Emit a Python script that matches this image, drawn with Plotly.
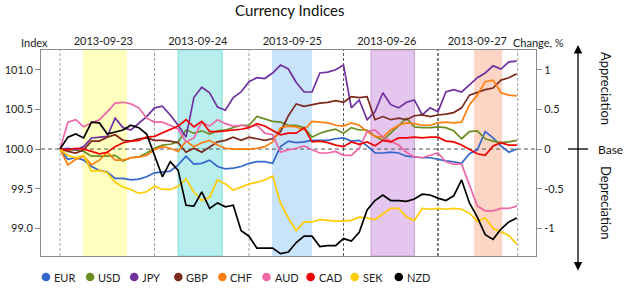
import plotly.graph_objects as go
import pandas as pd

# ---------------- data ----------------
times = pd.date_range("2013-09-23 00:00", "2013-09-27 20:00", freq="2h")

currencies = ["EUR", "USD", "JPY", "GBP", "CHF", "AUD", "CAD", "SEK", "NZD"]

eur = [100.00, 99.87, 99.89, 99.86, 99.78, 99.73, 99.71, 99.63, 99.63, 99.61, 99.62, 99.65, 99.70, 99.71, 99.72,
       99.80, 99.91, 99.81, 99.82, 99.86, 99.78, 99.75, 99.76, 99.78, 99.82, 99.84, 99.84, 99.82, 100.03, 100.10,
       100.08, 100.09, 100.11, 100.11, 100.11, 100.13, 100.14, 100.10, 100.11, 100.04, 99.95, 99.95, 99.96, 99.95,
       99.91, 99.90, 99.89, 99.89, 99.87, 99.85, 99.84, 99.82, 99.94, 99.99, 100.22, 100.14, 100.04, 99.96, 100.00]
usd = [100.00, 99.99, 99.99, 99.97, 99.91, 99.91, 99.91, 99.92, 99.85, 99.89, 99.90, 99.95, 100.01, 100.05, 100.06,
       100.09, 100.24, 100.20, 100.23, 100.19, 100.23, 100.24, 100.27, 100.30, 100.30, 100.41, 100.38, 100.35, 100.34,
       100.30, 100.30, 100.27, 100.15, 100.20, 100.23, 100.25, 100.20, 100.27, 100.24, 100.24, 100.16, 100.11, 100.20,
       100.30, 100.39, 100.28, 100.27, 100.27, 100.28, 100.27, 100.23, 100.13, 100.22, 100.23, 100.13, 100.10, 100.08,
       100.09, 100.11]
jpy = [100.00, 100.01, 99.99, 100.03, 100.14, 100.15, 100.16, 100.39, 100.27, 100.24, 100.32, 100.41, 100.52, 100.54,
       100.43, 100.30, 100.15, 100.65, 100.78, 100.71, 100.53, 100.49, 100.65, 100.72, 100.85, 100.90, 100.89, 100.96,
       101.06, 101.01, 100.84, 100.72, 100.72, 100.96, 100.97, 101.00, 101.06, 100.52, 100.62, 100.37, 100.47, 100.71,
       100.56, 100.52, 100.59, 100.62, 100.43, 100.52, 100.47, 100.72, 100.75, 100.72, 100.81, 100.90, 100.96, 101.05,
       101.01, 101.10, 101.11]
gbp = [100.00, 99.97, 99.95, 99.99, 100.10, 100.10, 100.15, 100.18, 100.11, 100.10, 100.13, 100.14, 100.11, 100.11,
       100.10, 100.08, 99.96, 100.01, 99.96, 100.03, 100.09, 100.11, 100.15, 100.11, 100.15, 100.13, 100.11, 100.13,
       100.22, 100.42, 100.57, 100.54, 100.56, 100.58, 100.59, 100.61, 100.59, 100.66, 100.65, 100.66, 100.37, 100.41,
       100.37, 100.39, 100.37, 100.42, 100.43, 100.41, 100.43, 100.44, 100.46, 100.52, 100.68, 100.72, 100.75, 100.77,
       100.87, 100.90, 100.95]
chf = [100.00, 99.80, 99.87, 99.91, 99.80, 99.86, 99.96, 99.86, 99.86, 99.89, 99.90, 99.92, 99.99, 100.03, 100.01,
       99.97, 100.10, 100.03, 100.08, 100.11, 100.05, 100.01, 100.00, 100.00, 100.00, 100.01, 100.03, 100.09, 100.27,
       100.29, 100.28, 100.24, 100.35, 100.34, 100.33, 100.30, 100.29, 100.33, 100.30, 100.22, 100.16, 100.15, 100.24,
       100.30, 100.33, 100.32, 100.30, 100.30, 100.33, 100.34, 100.33, 100.34, 100.56, 100.68, 100.85, 100.87, 100.71,
       100.68, 100.67]
aud = [100.00, 100.34, 100.37, 100.28, 100.33, 100.37, 100.47, 100.58, 100.59, 100.57, 100.52, 100.39, 100.34, 100.34,
       100.30, 100.25, 100.09, 100.14, 100.34, 100.29, 100.37, 100.32, 100.29, 100.30, 100.28, 100.30, 100.20, 100.18,
       99.96, 99.99, 100.01, 100.04, 99.99, 99.95, 99.95, 99.97, 99.92, 99.92, 100.01, 100.22, 100.24, 100.15, 100.10,
       100.05, 99.96, 99.90, 99.89, 99.92, 99.95, 99.84, 99.81, 99.81, 99.54, 99.28, 99.22, 99.22, 99.25, 99.25, 99.28]
cad = [100.00, 99.99, 100.01, 100.00, 99.97, 99.94, 99.96, 100.03, 100.08, 100.10, 100.11, 100.15, 100.16, 100.20,
       100.24, 100.29, 100.37, 100.28, 100.35, 100.22, 100.22, 100.23, 100.24, 100.25, 100.27, 100.32, 100.29, 100.23,
       100.18, 100.20, 100.20, 100.27, 100.09, 100.10, 100.08, 100.05, 100.03, 100.09, 100.06, 100.09, 100.04, 100.11,
       100.09, 100.14, 100.14, 100.15, 100.14, 100.15, 100.15, 100.10, 100.09, 100.05, 100.00, 99.94, 99.92, 100.04,
       100.08, 100.05, 100.05]
sek = [100.00, 99.92, 99.89, 99.92, 99.72, 99.73, 99.70, 99.58, 99.52, 99.49, 99.44, 99.46, 99.53, 99.49, 99.49,
       99.53, 99.62, 99.46, 99.35, 99.39, 99.61, 99.56, 99.48, 99.52, 99.56, 99.58, 99.61, 99.66, 99.32, 99.13, 98.97,
       99.08, 99.08, 99.11, 99.10, 99.09, 99.09, 99.10, 99.14, 99.13, 99.11, 99.18, 99.25, 99.25, 99.14, 99.10, 99.25,
       99.24, 99.25, 99.24, 99.25, 99.24, 99.19, 99.09, 99.13, 99.00, 98.96, 98.91, 98.80]
nzd = [100.00, 100.15, 100.19, 100.14, 100.34, 100.33, 100.19, 100.22, 100.24, 100.30, 100.27, 100.19, 99.92, 99.65,
       99.84, 99.73, 99.29, 99.28, 99.46, 99.25, 99.32, 99.27, 99.29, 98.97, 98.90, 98.75, 98.75, 98.75, 98.68, 98.70,
       98.82, 98.90, 98.90, 98.77, 98.78, 98.78, 98.87, 98.84, 98.95, 99.23, 99.35, 99.42, 99.35, 99.35, 99.34, 99.37,
       99.43, 99.42, 99.38, 99.35, 99.41, 99.61, 99.32, 99.14, 98.92, 98.86, 98.99, 99.08, 99.13]

series = [eur, usd, jpy, gbp, chf, aud, cad, sek, nzd]

day_labels = ["2013-09-23", "2013-09-24", "2013-09-25", "2013-09-26", "2013-09-27"]
day_label_times = ["2013-09-23 11:00", "2013-09-24 11:00", "2013-09-25 11:00", "2013-09-26 11:00", "2013-09-27 10:00"]
separators = ["2013-09-23 00:00", "2013-09-24 00:00", "2013-09-25 00:00", "2013-09-26 00:00",
              "2013-09-27 00:00", "2013-09-27 20:15"]
session_start = ["2013-09-23 05:50", "2013-09-24 06:00", "2013-09-25 05:50", "2013-09-26 07:00", "2013-09-27 09:10"]
session_end = ["2013-09-23 17:00", "2013-09-24 17:10", "2013-09-25 16:00", "2013-09-26 18:00", "2013-09-27 16:20"]

left_ticks = [99.0, 99.5, 100.0, 100.5, 101.0]
right_ticks = [-1, -0.5, 0, 0.5, 1]
right_tick_text = ["-1", "-0.5", "0", "0.5", "1"]

# ---------------- styles ----------------
colors = ["#3466CC", "#6B8E23", "#7030A0", "#7B2A1C", "#FF7F0E", "#EE66A6", "#F00000", "#FFCC00", "#000000"]
sep_colors = ["#a0a0a0", "#a0a0a0", "#a0a0a0", "#555555", "#000000", "#a0a0a0"]
band_fill = ["#FFFFC0", "#B9EEEE", "#C8E3FA", "#E4C6EE", "#FDD5C4"]
band_line = ["rgba(0,0,0,0)", "#7ADADA", "rgba(0,0,0,0)", "#C99AD9", "rgba(0,0,0,0)"]

FONT = "Lato, 'Open Sans', sans-serif"
W, H = 625, 288
L, R, T, B = 41, 536, 50, 256
AXC = "#8a8a8a"


def px_x(p):
    return (p - L) / (R - L)


def px_y(p):
    return (B - p) / (B - T)


def label(text, x, y, size=11, xanchor="center", angle=0, color="#222"):
    return dict(text=text, xref="paper", yref="paper", x=px_x(x), y=px_y(y), xanchor=xanchor,
                yanchor="middle", textangle=angle, showarrow=False, font=dict(size=size, color=color))


fig = go.Figure()

for name, vals, col in zip(currencies, series, colors):
    fig.add_trace(go.Scatter(x=times, y=vals, mode="lines", name=name,
                             line=dict(color=col, width=1.7), showlegend=False))

# right axis carrier (invisible)
fig.add_trace(go.Scatter(x=[times[0]], y=[0], yaxis="y2", mode="markers",
                         marker=dict(opacity=0), showlegend=False, hoverinfo="skip"))

shapes = []
for s0, s1, fc, lc in zip(session_start, session_end, band_fill, band_line):
    shapes.append(dict(type="rect", xref="x", yref="paper", x0=s0, x1=s1, y0=0, y1=1,
                       fillcolor=fc, line=dict(color=lc, width=1), layer="below"))
for sx, sc in zip(separators, sep_colors):
    shapes.append(dict(type="line", xref="x", yref="paper", x0=sx, x1=sx, y0=0, y1=1,
                       line=dict(color=sc, width=1, dash="3px,2px"), layer="below"))
shapes.append(dict(type="line", xref="paper", yref="y", x0=0, x1=1, y0=100, y1=100,
                   line=dict(color="#555555", width=1, dash="4px,3px"), layer="below"))
# Base cross tick
shapes.append(dict(type="line", xref="paper", yref="paper", x0=px_x(568), x1=px_x(588),
                   y0=px_y(149), y1=px_y(149), line=dict(color="black", width=1.3)))

annotations = []
annotations.append(label("Currency Indices", 289, 10, size=15, color="#111"))
annotations.append(label("Index", 34, 42))
annotations.append(label("Change, %", 538, 42))
# Double arrow
annotations.append(dict(text="", xref="paper", yref="paper", x=px_x(578), y=px_y(45),
                        ax=0, ay=227, axref="pixel", ayref="pixel", showarrow=True,
                        arrowside="end+start", arrowhead=2, startarrowhead=2,
                        arrowsize=1.3, startarrowsize=1.3, arrowwidth=1.3, arrowcolor="black",
                        standoff=0, startstandoff=0))
annotations.append(label("Appreciation", 606, 88, size=13, angle=90, color="#111"))
annotations.append(label("Depreciation", 606, 203, size=13, angle=90, color="#111"))
annotations.append(label("Base", 596, 149, size=12, xanchor="left", color="#111"))

# legend (dots + labels)
for i, (name, col) in enumerate(zip(currencies, colors)):
    cx = 46 + 44.1 * i
    shapes.append(dict(type="circle", xref="paper", yref="paper", xsizemode="pixel", ysizemode="pixel",
                       xanchor=px_x(cx), yanchor=px_y(277), x0=-4.3, x1=4.3, y0=-4.3, y1=4.3,
                       fillcolor=col, line=dict(width=0)))
    annotations.append(label(name, cx + 6, 277, xanchor="left"))

fig.update_layout(
    width=W, height=H,
    margin=dict(l=L, r=W - R, t=T, b=H - B, pad=0),
    plot_bgcolor="white", paper_bgcolor="white",
    font=dict(family=FONT, size=11, color="#222"),
    showlegend=False,
    shapes=shapes, annotations=annotations,
    xaxis=dict(type="date", range=["2013-09-22 19:10", "2013-09-28 00:54"], side="top",
               tickvals=day_label_times, ticktext=day_labels, ticks="", showgrid=False,
               zeroline=False, showline=True, mirror=True, linecolor=AXC, linewidth=1,
               automargin=False, tickfont=dict(size=11, color="#222")),
    yaxis=dict(range=[98.65, 101.25], tickvals=left_ticks, tickformat=".1f", ticks="outside",
               ticklen=5, tickcolor=AXC, showgrid=False, zeroline=False, showline=True,
               linecolor=AXC, linewidth=1, mirror=True, automargin=False,
               tickfont=dict(size=11, color="#222")),
    yaxis2=dict(range=[-1.35, 1.25], overlaying="y", side="right", tickvals=right_ticks,
                ticktext=right_tick_text, ticks="outside", ticklen=5, tickcolor=AXC,
                showgrid=False, zeroline=False, showline=True, linecolor=AXC, linewidth=1,
                automargin=False, tickfont=dict(size=11, color="#222")),
)

fig.write_html("out.html")
